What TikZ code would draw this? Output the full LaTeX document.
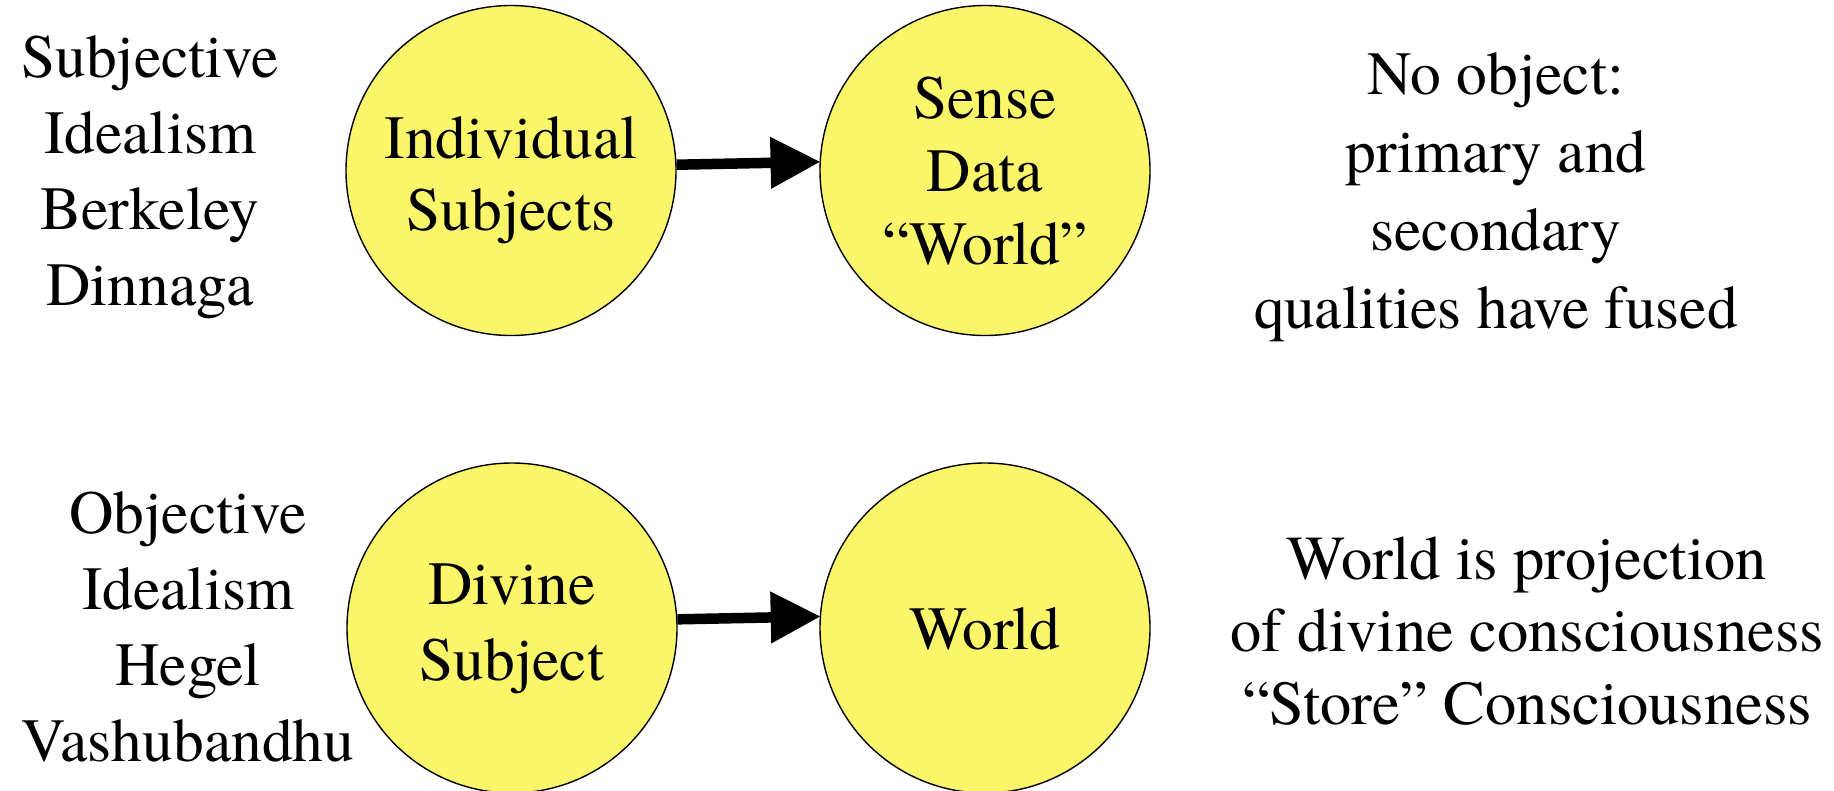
\documentclass[tikz,border=0pt]{standalone}
\usepackage{fontspec}
\IfFontExistsTF{TeX Gyre Termes}{\setmainfont{TeX Gyre Termes}}{\setmainfont{Liberation Serif}}
\usetikzlibrary{arrows.meta}
\definecolor{ballfill}{RGB}{250,245,105}
\tikzset{
  ball/.style={circle, draw=black, line width=1.4pt, fill=ballfill, minimum size=330pt, inner sep=0pt},
  txt/.style={align=center, inner sep=0pt, font=\fontsize{61.5}{76}\selectfont},
  arr/.style={line width=10.5pt, -{Triangle[length=50pt,width=49pt]}, shorten >=-1pt}
}
\begin{document}
\begin{tikzpicture}[x=1pt,y=-1pt]
\useasboundingbox (0,0) rectangle (1834,790);
% circles
\node[ball] (c1) at (511,170.5) {};
\node[ball] (c2) at (985,170.5) {};
\node[ball] (c3) at (512,628) {};
\node[ball] (c4) at (985,628) {};
% circle texts
\node[txt, font=\fontsize{61.5}{72}\selectfont] (t1) at (511,180) {Individual\\Subjects};
\node[txt, font=\fontsize{61.5}{73}\selectfont] (t2) at (985,171) {Sense\\Data\\“World”};
\node[txt] (t3) at (512,629) {Divine\\Subject};
\node[txt] (t4) at (985,629) {World};
% side texts
\node[txt] (l1) at (150,177) {Subjective\\Idealism\\Berkeley\\Dinnaga};
\node[txt] (l2) at (188,627) {Objective\\Idealism\\Hegel\\Vashubandhu};
\node[txt, font=\fontsize{61.5}{78}\selectfont] (r1) at (1496,197) {No object:\\primary and\\secondary\\qualities have fused};
\node[txt, font=\fontsize{62.5}{72.5}\selectfont] (r2) at (1527,631) {World is projection\\of divine consciousness\\“Store” Consciousness};
% arrows
\draw[arr] (c1.2.8) -- (c2.177.2);
\draw[arr] (c3.3.5) -- (c4.176.5);
\end{tikzpicture}
\end{document}
